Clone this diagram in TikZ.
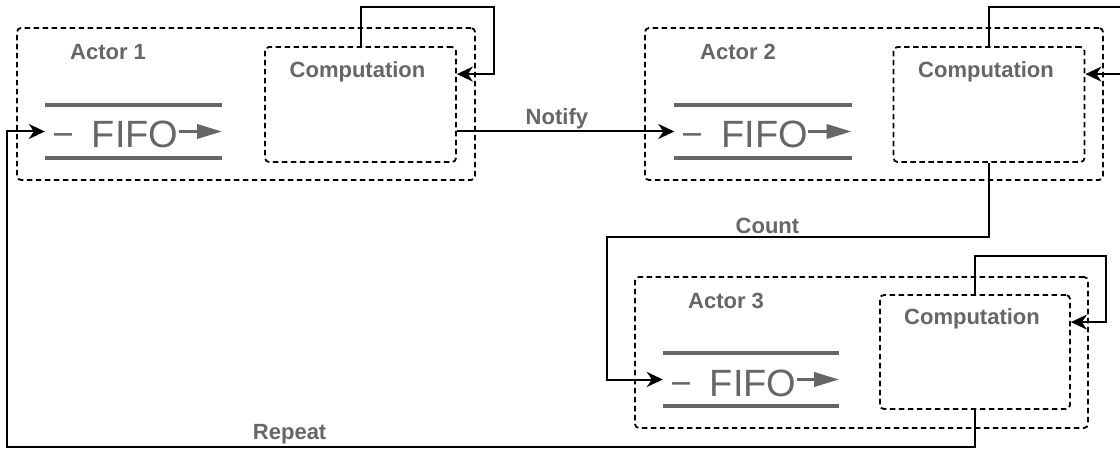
\documentclass[tikz,border=0pt]{standalone}
\usepackage{fontspec}
\setmainfont{Liberation Sans}
\usetikzlibrary{arrows.meta,positioning,calc}
\definecolor{labelgray}{HTML}{666666}

\tikzset{
  actorbox/.style={draw, dash pattern=on 5.5pt off 3.5pt, line width=1.8pt, rounded corners=4pt, minimum width=458pt, minimum height=152pt, inner sep=0pt},
  compbox/.style={draw, dash pattern=on 5.5pt off 3.5pt, line width=1.8pt, rounded corners=4pt, minimum width=191pt, minimum height=115pt, inner sep=0pt},
  fifobox/.style={minimum width=177pt, minimum height=53pt, inner sep=0pt},
  fifoline/.style={labelgray, line width=4pt},
  fifotext/.style={labelgray, font=\fontsize{38}{38}\selectfont, inner sep=0pt, anchor=base west},
  fifoarrow/.style={labelgray, line width=3.5pt, -{Triangle[length=25pt, width=14pt]}},
  tag/.style={labelgray, font=\fontsize{22}{22}\selectfont\bfseries, inner sep=2pt},
  flow/.style={line width=2pt, -{Stealth[length=16pt, width=15pt, inset=5pt]}}
}

\begin{document}
\begin{tikzpicture}[x=1pt, y=1pt]
    \useasboundingbox (0,0) rectangle (1120,448);

    %%%%% ACTORS %%%%%
    \node[actorbox] (actor1) at (246, 344) {};
    \node[compbox] (comp1) at (360.5, 343.5) {};
    \node[actorbox] (actor2) at (874, 344) {};
    \node[compbox] (comp2) at (989, 343.5) {};
    \node[actorbox, minimum width=453pt, minimum height=151pt] (actor3) at (861.5, 95.5) {};
    \node[compbox, minimum width=190pt, minimum height=114pt] (comp3) at (975, 96) {};

    \node[tag] (actorlbl1) at ([xshift=92pt, yshift=-25pt]actor1.north west) {Actor 1};
    \node[tag] (actorlbl2) at ([xshift=94pt, yshift=-25pt]actor2.north west) {Actor 2};
    \node[tag] (actorlbl3) at ([xshift=92pt, yshift=-25pt]actor3.north west) {Actor 3};

    \node[tag] (complbl1) at ([xshift=-3pt, yshift=-26pt]comp1.north) {Computation};
    \node[tag] (complbl2) at ([xshift=-3pt, yshift=-26pt]comp2.north) {Computation};
    \node[tag] (complbl3) at ([xshift=-3pt, yshift=-25pt]comp3.north) {Computation};

    %%%%% FIFOS %%%%%
    \node[fifobox] (fifo1) at (133.5, 316.5) {};
    \node[fifobox] (fifo2) at (763, 316.5) {};
    \node[fifobox, minimum width=176pt] (fifo3) at (751, 68.5) {};

    \foreach \i in {1,2,3} {
        \draw[fifoline] (fifo\i.north west) -- (fifo\i.north east);
        \draw[fifoline] (fifo\i.south west) -- (fifo\i.south east);
        \node[fifotext] (fifotxt\i) at ([xshift=9pt, yshift=-16.5pt]fifo\i.west)
            {\raisebox{3pt}{\scalebox{0.85}[1]{\textendash}}\kern20pt FIFO};
        \draw[fifoarrow] (fifotxt\i.east |- fifo\i) -- (fifo\i.east);
    }

    %%%%% SELF LOOPS %%%%%
    \coordinate (loop1) at ([xshift=18pt, yshift=20pt]actor1.north east);
    \coordinate (loop2) at ([xshift=18pt, yshift=20pt]actor2.north east);
    \coordinate (loop3) at ([xshift=17pt, yshift=20pt]actor3.north east);

    \draw[flow] (comp1.north) |- (loop1) |- ([yshift=-28pt]comp1.north east);
    \draw[flow] (comp2.north) |- (loop2) |- ([yshift=-28pt]comp2.north east);
    \draw[flow] (comp3.north) |- (loop3) |- ([yshift=-28pt]comp3.north east);

    %%%%% LINKS %%%%%
    \coordinate (countbend) at (607, 211);
    \coordinate (repeatbend) at (7, 1);

    \draw[flow] (comp1.east |- fifo2) -- (fifo2.west)
        node[tag, pos=0.46, above=-1pt] (notifylbl) {Notify};
    \draw[flow] (comp2.south) |- (countbend)
        node[tag, pos=0.79, above=0pt] (countlbl) {Count}
        |- (fifo3.west);
    \draw[flow] (comp3.south) |- (repeatbend)
        node[tag, pos=0.854, above=0pt] (repeatlbl) {Repeat}
        |- (fifo1.west);
\end{tikzpicture}
\end{document}
